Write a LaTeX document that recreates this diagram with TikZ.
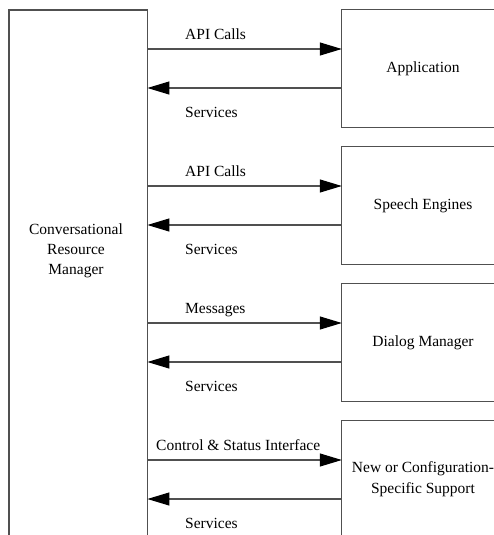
\documentclass[tikz,border=0pt]{standalone}
\usepackage{fontspec}
\setmainfont{Liberation Serif}
\usetikzlibrary{arrows.meta}
\definecolor{linegray}{RGB}{80,80,80}
\begin{document}
\begin{tikzpicture}[x=1pt,y=-1pt,
  box/.style={draw=none, minimum width=162pt, minimum height=117pt, inner sep=0pt, align=center, font=\fontsize{15.5}{21}\selectfont},
  edge/.style={draw=linegray, line width=1.1pt},
  flow/.style={draw=linegray, line width=1.1pt, -{Triangle[length=22pt,width=13pt,color=black,fill=black]}},
  lbl/.style={anchor=base west, inner sep=0pt, font=\fontsize{15.5}{19}\selectfont}]
\useasboundingbox (0,0) rectangle (494,535);
\clip (0,0) rectangle (494,535);
% left box
\node[draw=none, minimum width=138pt, minimum height=560pt, inner sep=0pt, anchor=north west] (crm) at (9,10) {};
\draw[edge] (crm.south west) -- (crm.north west) -- (crm.north east) -- (crm.south east);
\node[inner sep=0pt, align=center, font=\fontsize{15.5}{20}\selectfont] (crmtext) at (76,251) {Conversational\\Resource\\Manager};
% right boxes
\node[box] (app) at (423,68.5) {Application};
\node[box] (spe) at (423,205.5) {Speech Engines};
\node[box] (dlg) at (423,342.5) {Dialog Manager};
\node[box] (new) at (423,479.5) {New or Configuration-\\Specific Support};
\foreach \b in {app,spe,dlg,new}{
  \draw[edge] (\b.north east) -- (\b.north west) -- (\b.south west) -- (\b.south east);
}
% arrow levels
\coordinate (f1) at (0,49);  \coordinate (b1) at (0,88);
\coordinate (f2) at (0,186); \coordinate (b2) at (0,225);
\coordinate (f3) at (0,323); \coordinate (b3) at (0,362);
\coordinate (f4) at (0,460); \coordinate (b4) at (0,499);
\draw[flow] (crm.east |- f1) -- (app.west |- f1);
\draw[flow] (app.west |- b1) -- (crm.east |- b1);
\draw[flow] (crm.east |- f2) -- (spe.west |- f2);
\draw[flow] (spe.west |- b2) -- (crm.east |- b2);
\draw[flow] (crm.east |- f3) -- (dlg.west |- f3);
\draw[flow] (dlg.west |- b3) -- (crm.east |- b3);
\draw[flow] (crm.east |- f4) -- (new.west |- f4);
\draw[flow] (new.west |- b4) -- (crm.east |- b4);
% labels
\node[lbl] (l1) at (185,39.5) {API Calls};
\node[lbl] (s1) at (185,117.5) {Services};
\node[lbl] (l2) at (185,176.5) {API Calls};
\node[lbl] (s2) at (185,254.5) {Services};
\node[lbl] (l3) at (185,313.5) {Messages};
\node[lbl] (s3) at (185,391.5) {Services};
\node[lbl] (l4) at (156,450.5) {Control \& Status Interface};
\node[lbl] (s4) at (185,528.5) {Services};
\end{tikzpicture}
\end{document}
